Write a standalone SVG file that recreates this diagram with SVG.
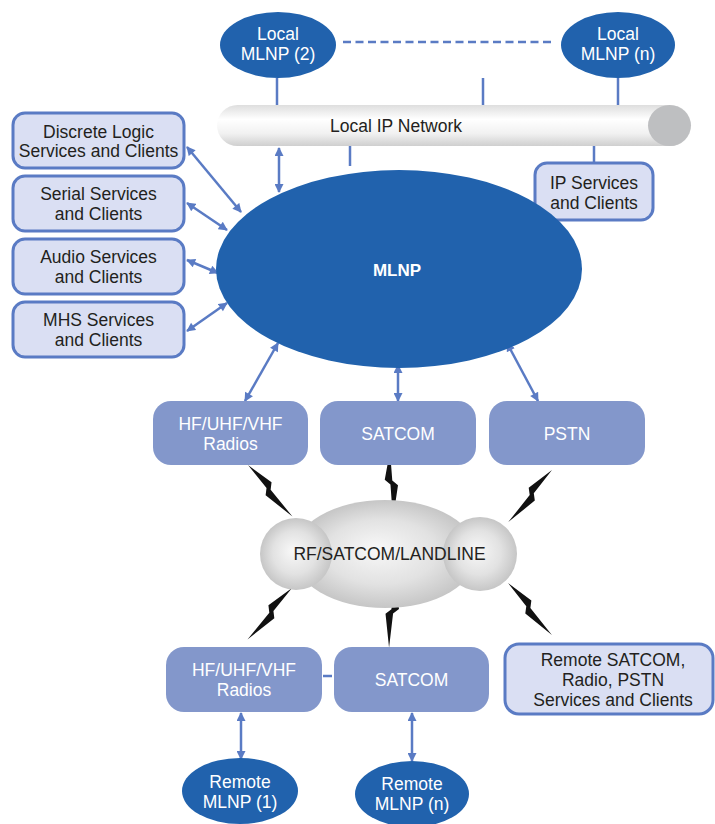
<svg xmlns="http://www.w3.org/2000/svg" width="715" height="824" viewBox="0 0 715 824">
<style>
text{font-family:"Liberation Sans",Arial,sans-serif;font-size:17.5px;text-anchor:middle}
.dk{fill:#231f20}
.wt{fill:#ffffff}
.b{font-weight:bold}
.blue{fill:#2162ad}
.mid{fill:#8397cb}
.lt{fill:#dadff3;stroke:#5a7bc4;stroke-width:3}
.cn{stroke:#5a7bc4;stroke-width:2.5;fill:none}
.arr{stroke:#5a7bc4;stroke-width:2.5;fill:none;marker-start:url(#ah);marker-end:url(#ah)}
.bolt{fill:#111}
</style>
<defs>
<marker id="ah" viewBox="0 0 10 10" refX="9" refY="5" markerWidth="10" markerHeight="9" markerUnits="userSpaceOnUse" orient="auto-start-reverse">
<path d="M0,0 L10,5 L0,10 z" fill="#5a7bc4"/>
</marker>
<linearGradient id="pipe" x1="0" y1="0" x2="0" y2="1">
<stop offset="0" stop-color="#dedede"/>
<stop offset="0.35" stop-color="#ffffff"/>
<stop offset="0.7" stop-color="#f1f1f1"/>
<stop offset="1" stop-color="#cfcfcf"/>
</linearGradient>
<radialGradient id="cl" cx="0.5" cy="0.5" r="0.5" fx="0.45" fy="0.45">
<stop offset="0" stop-color="#f8f8f8"/>
<stop offset="0.6" stop-color="#e2e2e2"/>
<stop offset="1" stop-color="#c6c6c6"/>
</radialGradient>
<polygon id="bolt" points="0,0 28.5,-6.5 33.5,-1 68,0 34.5,6.5 29.5,1"/>
</defs>

<g id="connectors">
<line class="cn" x1="343" y1="42" x2="552" y2="42" stroke-dasharray="8 4.5" stroke-width="3"/>
<line class="cn" x1="277" y1="78" x2="277" y2="106"/>
<line class="cn" x1="483" y1="78" x2="483" y2="106"/>
<line class="cn" x1="618" y1="78" x2="618" y2="106"/>
<line class="cn" x1="350" y1="145" x2="350" y2="166"/>
<line class="cn" x1="594" y1="145" x2="594" y2="164"/>
<line class="arr" x1="279" y1="148" x2="279" y2="192"/>
<line class="arr" x1="187" y1="147" x2="241" y2="212"/>
<line class="arr" x1="187" y1="203" x2="227" y2="230"/>
<line class="arr" x1="187" y1="260" x2="218" y2="273"/>
<line class="arr" x1="187" y1="331" x2="227" y2="303"/>
<line class="arr" x1="278" y1="343" x2="245" y2="401"/>
<line class="arr" x1="398" y1="365" x2="398" y2="401"/>
<line class="arr" x1="507" y1="343" x2="538" y2="401"/>
<line class="arr" x1="241" y1="713" x2="241" y2="759"/>
<line class="arr" x1="412" y1="713" x2="412" y2="761"/>
<line class="cn" x1="323" y1="676" x2="332" y2="676" stroke-width="3"/>
<use href="#bolt" class="bolt" transform="translate(248,465) rotate(49.2)"/>
<use href="#bolt" class="bolt" transform="translate(390,451) rotate(87.5) scale(1,-1)"/>
<use href="#bolt" class="bolt" transform="translate(552,470) rotate(130) scale(1,-1)"/>
<use href="#bolt" class="bolt" transform="translate(292,588) rotate(130.9) scale(1,-1)"/>
<use href="#bolt" class="bolt" transform="translate(395,580) rotate(95)"/>
<use href="#bolt" class="bolt" transform="translate(508,583) rotate(49.8)"/>
</g>

<g id="local-mlnp-2">
<ellipse class="blue" cx="278" cy="45" rx="58" ry="33"/>
<text class="wt" x="278" y="40">Local</text>
<text class="wt" x="278" y="60">MLNP (2)</text>
</g>
<g id="local-mlnp-n">
<ellipse class="blue" cx="618" cy="45" rx="57" ry="33"/>
<text class="wt" x="618" y="40">Local</text>
<text class="wt" x="618" y="60">MLNP (n)</text>
</g>

<g id="local-ip-network">
<rect x="217" y="105" width="474" height="41" rx="20.5" fill="url(#pipe)"/>
<ellipse cx="669.5" cy="125.5" rx="21.5" ry="20.5" fill="#bebfc1"/>
<text class="dk" x="396" y="132">Local IP Network</text>
</g>

<g id="ip-services">
<rect class="lt" x="535" y="163" width="118" height="57" rx="12"/>
<text class="dk" x="594" y="189">IP Services</text>
<text class="dk" x="594" y="209">and Clients</text>
</g>

<g id="discrete-logic">
<rect class="lt" x="13" y="113" width="171" height="55" rx="12"/>
<text class="dk" x="98.5" y="138">Discrete Logic</text>
<text class="dk" x="98.5" y="157">Services and Clients</text>
</g>
<g id="serial">
<rect class="lt" x="13" y="176" width="171" height="55" rx="12"/>
<text class="dk" x="98.5" y="200">Serial Services</text>
<text class="dk" x="98.5" y="220">and Clients</text>
</g>
<g id="audio">
<rect class="lt" x="13" y="239" width="171" height="55" rx="12"/>
<text class="dk" x="98.5" y="263">Audio Services</text>
<text class="dk" x="98.5" y="283">and Clients</text>
</g>
<g id="mhs">
<rect class="lt" x="13" y="302" width="171" height="55" rx="12"/>
<text class="dk" x="98.5" y="326">MHS Services</text>
<text class="dk" x="98.5" y="346">and Clients</text>
</g>

<g id="mlnp">
<ellipse class="blue" cx="399" cy="269" rx="183" ry="99"/>
<text class="wt b" x="397" y="276" style="font-size:17px">MLNP</text>
</g>

<g id="hf-radios">
<rect class="mid" x="153" y="401" width="155" height="64" rx="18"/>
<text class="wt" x="230.5" y="430">HF/UHF/VHF</text>
<text class="wt" x="230.5" y="450">Radios</text>
</g>
<g id="satcom">
<rect class="mid" x="320" y="401" width="156" height="64" rx="18"/>
<text class="wt" x="398" y="440">SATCOM</text>
</g>
<g id="pstn">
<rect class="mid" x="489" y="401" width="156" height="64" rx="18"/>
<text class="wt" x="567" y="440">PSTN</text>
</g>

<g id="cloud">
<ellipse cx="385" cy="554" rx="92" ry="54" fill="url(#cl)"/>
<circle cx="296" cy="554" r="36" fill="url(#cl)"/>
<circle cx="480" cy="554" r="37" fill="url(#cl)"/>
<text class="dk" x="389.5" y="560">RF/SATCOM/LANDLINE</text>
</g>

<g id="remote-hf-radios">
<rect class="mid" x="166" y="647" width="156" height="65" rx="18"/>
<text class="wt" x="244" y="676">HF/UHF/VHF</text>
<text class="wt" x="244" y="696">Radios</text>
</g>
<g id="remote-satcom">
<rect class="mid" x="334" y="647" width="155" height="65" rx="18"/>
<text class="wt" x="411.5" y="686">SATCOM</text>
</g>
<g id="remote-services">
<rect class="lt" x="505" y="644" width="208" height="70" rx="14"/>
<text class="dk" x="613" y="666">Remote SATCOM,</text>
<text class="dk" x="613" y="686">Radio, PSTN</text>
<text class="dk" x="613" y="706">Services and Clients</text>
</g>

<g id="remote-mlnp-1">
<ellipse class="blue" cx="240" cy="791" rx="58" ry="33"/>
<text class="wt" x="240" y="788">Remote</text>
<text class="wt" x="240" y="808">MLNP (1)</text>
</g>
<g id="remote-mlnp-n">
<ellipse class="blue" cx="412" cy="794" rx="57" ry="33"/>
<text class="wt" x="412" y="790">Remote</text>
<text class="wt" x="412" y="810">MLNP (n)</text>
</g>
</svg>
